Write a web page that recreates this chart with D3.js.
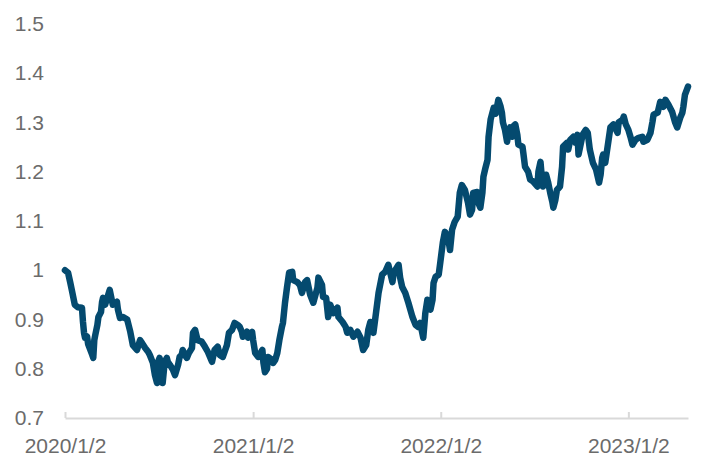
<!DOCTYPE html>
<html>
<head>
<meta charset="utf-8">
<script src="https://cdn.jsdelivr.net/npm/d3@7"></script>
<style>
  body { margin: 0; background: #fff; }
  #chart text { font-family: "Liberation Sans", Arial, Helvetica, sans-serif; }
</style>
</head>
<body>
<div id="chart"></div>
<script>
var W = 702, H = 465;
var margin = {left: 65, right: 14, top: 24, bottom: 47};

// data
var dates = [
  "2020-01-02","2020-01-08","2020-01-12","2020-01-16","2020-01-21","2020-01-27","2020-02-04","2020-02-06","2020-02-08","2020-02-10",
  "2020-02-14","2020-02-16","2020-02-24","2020-02-26","2020-02-28","2020-03-01","2020-03-05","2020-03-07","2020-03-12","2020-03-14",
  "2020-03-16","2020-03-20","2020-03-26","2020-03-29","2020-04-02","2020-04-04","2020-04-12","2020-04-14","2020-04-18","2020-04-24",
  "2020-05-02","2020-05-08","2020-05-13","2020-05-21","2020-05-27","2020-05-31","2020-06-06","2020-06-12","2020-06-15","2020-06-21",
  "2020-06-25","2020-06-29","2020-07-01","2020-07-04","2020-07-08","2020-07-10","2020-07-14","2020-07-18","2020-07-20","2020-07-24",
  "2020-07-30","2020-08-03","2020-08-09","2020-08-12","2020-08-16","2020-08-18","2020-08-22","2020-08-26","2020-08-30","2020-09-05",
  "2020-09-07","2020-09-11","2020-09-16","2020-09-24","2020-09-30","2020-10-06","2020-10-14","2020-10-19","2020-10-25","2020-10-29",
  "2020-11-04","2020-11-12","2020-11-16","2020-11-22","2020-11-27","2020-12-03","2020-12-07","2020-12-11","2020-12-13","2020-12-21",
  "2020-12-23","2020-12-31",
  "2021-01-02","2021-01-06","2021-01-12","2021-01-20","2021-01-22","2021-01-25","2021-01-29","2021-01-31","2021-02-08","2021-02-10",
  "2021-02-14","2021-02-18","2021-02-22","2021-02-27","2021-03-01","2021-03-05","2021-03-09","2021-03-13","2021-03-19","2021-03-21",
  "2021-03-29","2021-04-03","2021-04-07","2021-04-13","2021-04-17","2021-04-23","2021-04-29","2021-05-07","2021-05-09","2021-05-16",
  "2021-05-18","2021-05-24","2021-05-28","2021-06-01","2021-06-07","2021-06-15","2021-06-17","2021-06-25","2021-07-01","2021-07-04",
  "2021-07-10","2021-07-16","2021-07-24","2021-07-30","2021-08-04","2021-08-10","2021-08-14","2021-08-18","2021-08-22","2021-08-24",
  "2021-08-28","2021-09-03","2021-09-10","2021-09-16","2021-09-22","2021-09-30","2021-10-02","2021-10-06","2021-10-12","2021-10-15",
  "2021-10-19","2021-10-25","2021-10-31","2021-11-08","2021-11-14","2021-11-19","2021-11-23","2021-11-27","2021-11-29","2021-12-03",
  "2021-12-07","2021-12-13","2021-12-17","2021-12-19","2021-12-23","2021-12-29",
  "2022-01-01","2022-01-06","2022-01-10","2022-01-16","2022-01-20","2022-01-24","2022-01-29","2022-02-04","2022-02-08","2022-02-12",
  "2022-02-18","2022-02-24","2022-02-28","2022-03-04","2022-03-06","2022-03-14","2022-03-16","2022-03-20","2022-03-24","2022-03-26",
  "2022-03-30","2022-04-03","2022-04-05","2022-04-09","2022-04-15","2022-04-19","2022-04-24","2022-04-28","2022-05-01","2022-05-03",
  "2022-05-07","2022-05-11","2022-05-13","2022-05-17","2022-05-21","2022-05-23","2022-05-27","2022-05-31","2022-06-02","2022-06-10",
  "2022-06-12","2022-06-15","2022-06-21","2022-06-25","2022-07-01","2022-07-09","2022-07-11","2022-07-15","2022-07-18","2022-07-20",
  "2022-07-26","2022-07-30","2022-08-03","2022-08-07","2022-08-09","2022-08-13","2022-08-16","2022-08-22","2022-08-26","2022-08-28",
  "2022-09-05","2022-09-07","2022-09-11","2022-09-17","2022-09-21","2022-09-25","2022-09-27","2022-10-05","2022-10-11","2022-10-15",
  "2022-10-19","2022-10-25","2022-10-31","2022-11-06","2022-11-09","2022-11-12","2022-11-14","2022-11-18","2022-11-24","2022-11-28",
  "2022-12-04","2022-12-12","2022-12-14","2022-12-22","2022-12-24","2022-12-28",
  "2023-01-02","2023-01-06","2023-01-10","2023-01-16","2023-01-22","2023-01-29","2023-01-31","2023-02-08","2023-02-14","2023-02-18",
  "2023-02-20","2023-02-28","2023-03-05","2023-03-11","2023-03-15","2023-03-21","2023-03-28","2023-04-03","2023-04-07","2023-04-13",
  "2023-04-17","2023-04-19","2023-04-22","2023-04-28"
];
var values = [
  1.000,0.995,0.976,0.956,0.930,0.925,0.924,0.895,0.873,0.863,
  0.865,0.850,0.828,0.822,0.858,0.869,0.889,0.905,0.915,0.935,
  0.944,0.930,0.950,0.960,0.940,0.930,0.936,0.920,0.903,0.905,
  0.900,0.875,0.848,0.838,0.858,0.852,0.842,0.834,0.828,0.812,
  0.787,0.771,0.814,0.822,0.805,0.771,0.814,0.822,0.814,0.808,
  0.798,0.787,0.808,0.824,0.828,0.838,0.828,0.822,0.832,0.842,
  0.873,0.879,0.858,0.855,0.845,0.834,0.814,0.838,0.845,0.828,
  0.824,0.848,0.873,0.879,0.893,0.889,0.885,0.875,0.865,0.875,
  0.863,0.875,
  0.858,0.832,0.824,0.838,0.812,0.793,0.800,0.824,0.818,0.812,
  0.818,0.832,0.858,0.885,0.893,0.934,0.966,0.995,0.997,0.980,
  0.976,0.970,0.954,0.976,0.980,0.950,0.934,0.964,0.985,0.970,
  0.946,0.944,0.905,0.930,0.913,0.924,0.905,0.895,0.885,0.873,
  0.879,0.865,0.875,0.863,0.838,0.848,0.879,0.895,0.879,0.873,
  0.905,0.954,0.991,0.997,1.011,0.976,0.991,1.001,1.011,0.985,
  0.966,0.954,0.934,0.905,0.889,0.885,0.893,0.873,0.863,0.913,
  0.940,0.920,0.940,0.974,0.987,0.991,
  1.015,1.056,1.078,1.068,1.041,1.082,1.098,1.109,1.157,1.173,
  1.163,1.137,1.113,1.123,1.157,1.159,1.137,1.127,1.157,1.190,
  1.208,1.224,1.271,1.306,1.330,1.318,1.346,1.334,1.320,1.300,
  1.285,1.261,1.275,1.290,1.271,1.292,1.296,1.275,1.255,1.251,
  1.235,1.210,1.200,1.184,1.180,1.170,1.200,1.220,1.184,1.170,
  1.194,1.178,1.157,1.139,1.127,1.143,1.163,1.170,1.210,1.251,
  1.259,1.245,1.265,1.271,1.259,1.275,1.235,1.275,1.285,1.279,
  1.245,1.218,1.205,1.178,1.194,1.228,1.235,1.218,1.261,1.290,
  1.296,1.279,1.300,1.306,1.312,1.296,
  1.285,1.271,1.255,1.265,1.269,1.271,1.261,1.265,1.279,1.302,
  1.316,1.320,1.342,1.332,1.346,1.336,1.322,1.300,1.290,1.310,
  1.320,1.332,1.356,1.373
];
var xTicks = ["2020-01-02", "2021-01-02", "2022-01-02", "2023-01-02"];
var xTickLabels = ["2020/1/2", "2021/1/2", "2022/1/2", "2023/1/2"];
var yTicks = [0.7, 0.8, 0.9, 1, 1.1, 1.2, 1.3, 1.4, 1.5];
var xStart = "2020-01-02", xEnd = "2023-04-28";

var parse = d3.timeParse("%Y-%m-%d");
var data = dates.map(function(d, i) { return {date: parse(d), value: values[i]}; });

var width = W - margin.left - margin.right,
    height = H - margin.top - margin.bottom;

var x = d3.scaleTime().domain([parse(xStart), parse(xEnd)]).range([0, width]);
var y = d3.scaleLinear().domain([0.7, 1.5]).range([height, 0]);

var svg = d3.select("#chart").append("svg")
  .attr("width", W)
  .attr("height", H)
  .append("g")
    .attr("transform", "translate(" + margin.left + "," + margin.top + ")");

//X axis
var xAxis = svg.append("g")
  .attr("transform", "translate(0," + height + ")")
  .call(d3.axisBottom(x)
    .tickValues(xTicks.map(parse))
    .tickFormat(function(d, i) { return xTickLabels[i]; })
    .tickSizeInner(-6)
    .tickSizeOuter(0)
    .tickPadding(20));
xAxis.select(".domain").attr("stroke", "#d9d9d9").attr("stroke-width", 2);
xAxis.selectAll(".tick line").attr("stroke", "#d9d9d9").attr("stroke-width", 2);
xAxis.selectAll(".tick text")
  .attr("fill", "#6b6b6b")
  .style("font-size", "21px");

//Y axis, labels only
var yAxis = svg.append("g")
  .attr("transform", "translate(-21,0)")
  .call(d3.axisLeft(y)
    .tickValues(yTicks)
    .tickFormat(function(d) { return d3.format("~g")(d); })
    .tickSize(0)
    .tickPadding(0));
yAxis.select(".domain").remove();
yAxis.selectAll(".tick text")
  .attr("fill", "#6b6b6b")
  .style("font-size", "21px");

//the line
var line = d3.line()
  .x(function(d) { return x(d.date); })
  .y(function(d) { return y(d.value); });

svg.append("path")
  .datum(data)
  .attr("fill", "none")
  .attr("stroke", "#044a6f")
  .attr("stroke-width", 6.5)
  .attr("stroke-linejoin", "round")
  .attr("stroke-linecap", "round")
  .attr("d", line);
</script>
</body>
</html>
